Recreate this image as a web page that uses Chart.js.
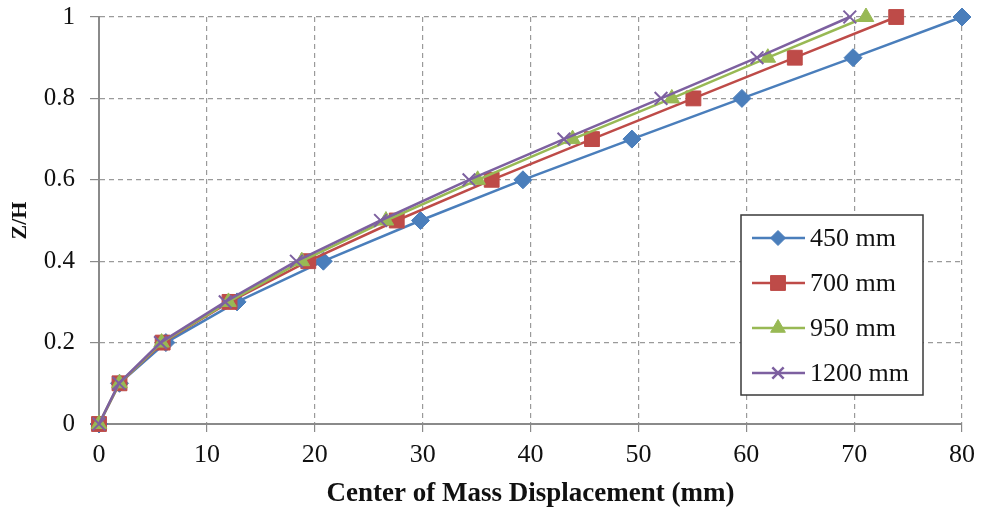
<!DOCTYPE html>
<html>
<head>
<meta charset="utf-8">
<script src="https://cdn.jsdelivr.net/npm/chart.js@4.4.1/dist/chart.umd.min.js"></script>
<style>
    html, body { margin: 0; padding: 0; background: #fff; }
    #wrap { width: 982px; height: 513px; position: relative; }
</style>
</head>
<body>
<div id="wrap"><canvas id="chart"></canvas></div>
<script>
// Z/H levels shared by every series
const levels = [0, 0.1, 0.2, 0.3, 0.4, 0.5, 0.6, 0.7, 0.8, 0.9, 1.0];

// Center of mass displacement (mm) per series
const disp450 = [0, 1.9, 6.2, 12.8, 20.8, 29.8, 39.3, 49.4, 59.6, 69.9, 80.0];
const disp700 = [0, 1.9, 5.9, 12.1, 19.4, 27.6, 36.4, 45.7, 55.1, 64.5, 73.9];
const disp950 = [0, 1.9, 5.8, 12.0, 18.8, 26.6, 35.1, 43.9, 53.1, 62.0, 71.1];
const disp1200 = [0, 1.85, 5.7, 11.7, 18.3, 26.1, 34.3, 43.1, 52.1, 61.0, 69.6];

const seriesNames = ["450 mm", "700 mm", "950 mm", "1200 mm"];
const seriesColors = ["#4a7ebb", "#be4b48", "#98b954", "#7d60a0"];
const seriesMarkers = ["rectRot", "rect", "triangle", "crossRot"];
const markerRadius = { rectRot: 9, rect: 10.5, triangle: 9, crossRot: 9 };
const legendRadius = { rectRot: 7.5, rect: 10.5, triangle: 8.5, crossRot: 8 };

const xTicks = [0, 10, 20, 30, 40, 50, 60, 70, 80];
const yTicks = [0, 0.2, 0.4, 0.6, 0.8, 1];

const fontFamily = "'Liberation Serif', 'Times New Roman', serif";

function toPoints(xs) {
    return xs.map((x, i) => ({ x: x, y: levels[i] }));
}

const allDisp = [disp450, disp700, disp950, disp1200];

const datasets = allDisp.map((d, i) => ({
    label: seriesNames[i],
    data: toPoints(d),
    borderColor: seriesColors[i],
    backgroundColor: seriesColors[i],
    pointBorderColor: seriesColors[i],
    pointBackgroundColor: seriesColors[i],
    pointStyle: seriesMarkers[i],
    pointRadius: markerRadius[seriesMarkers[i]],
    pointBorderWidth: seriesMarkers[i] == "crossRot" ? 2 : 1,
    borderWidth: 2.5,
    tension: 0,
    clip: false,
    order: 3 - i, // later series drawn on top, like the original
}));

// legend box drawn inside the plot area
const insideLegend = {
    id: "insideLegend",
    afterDraw(chart) {
        const ctx = chart.ctx;
        const left = 741, top = 215, w = 182, h = 180;
        ctx.save();
        ctx.fillStyle = "#fff";
        ctx.fillRect(left, top, w, h);
        ctx.strokeStyle = "#3a3a3a";
        ctx.lineWidth = 1.5;
        ctx.strokeRect(left, top, w, h);
        ctx.font = "26px " + fontFamily;
        ctx.textBaseline = "middle";
        seriesNames.forEach((name, i) => {
            const y = top + 23 + i * 45;
            ctx.strokeStyle = seriesColors[i];
            ctx.lineWidth = 2.5;
            ctx.beginPath();
            ctx.moveTo(752, y);
            ctx.lineTo(805, y);
            ctx.stroke();
            const bw = seriesMarkers[i] == "crossRot" ? 2.5 : 1;
            ctx.fillStyle = seriesColors[i];
            ctx.lineWidth = bw;
            Chart.helpers.drawPoint(ctx, {
                pointStyle: seriesMarkers[i],
                radius: legendRadius[seriesMarkers[i]],
                rotation: 0,
                borderWidth: bw,
            }, 778, y);
            ctx.fillStyle = "#111";
            ctx.fillText(name, 810, y + 1);
        });
        ctx.restore();
    },
};

const config = {
    type: "line",
    data: { datasets: datasets },
    options: {
        responsive: true,
        maintainAspectRatio: false,
        animation: false,
        layout: {
            padding: { top: 17, right: 20, left: 0, bottom: 0 },
        },
        plugins: {
            legend: { display: false },
            tooltip: { enabled: false },
        },
        scales: {
            x: {
                type: "linear",
                min: 0,
                max: 80,
                afterBuildTicks: (axis) => {
                    axis.ticks = xTicks.map((v) => ({ value: v }));
                },
                afterFit: (axis) => {
                    axis.height = 89;
                    axis.paddingLeft = 0;
                    axis.paddingRight = 0;
                },
                ticks: {
                    color: "#111",
                    padding: 8,
                    font: { family: fontFamily, size: 26 },
                },
                grid: {
                    color: (c) => (c.tick && c.tick.value == 0 ? "rgba(0,0,0,0)" : "#9a9a9a"),
                    lineWidth: 1.2,
                    tickLength: 8,
                    tickColor: "#8a8a8a",
                },
                border: { display: true, color: "#8a8a8a", width: 2, dash: [5, 4] },
                title: {
                    display: true,
                    text: "Center of Mass Displacement (mm)",
                    color: "#111",
                    font: { family: fontFamily, size: 27, weight: "bold" },
                    padding: { top: 0, bottom: 3 },
                },
            },
            y: {
                type: "linear",
                min: 0,
                max: 1,
                afterBuildTicks: (axis) => {
                    axis.ticks = yTicks.map((v) => ({ value: v }));
                },
                afterFit: (axis) => {
                    axis.width = 99;
                    axis.paddingTop = 0;
                    axis.paddingBottom = 0;
                },
                ticks: {
                    color: "#111",
                    padding: 15,
                    font: { family: fontFamily, size: 25 },
                    callback: (v) => Number(v.toFixed(1)).toString(),
                },
                grid: {
                    color: (c) => (c.tick && c.tick.value == 0 ? "rgba(0,0,0,0)" : "#9a9a9a"),
                    lineWidth: 1.2,
                    tickLength: 9,
                    tickColor: "#8a8a8a",
                },
                border: { display: true, color: "#8a8a8a", width: 2, dash: [5, 4] },
                title: {
                    display: true,
                    text: "Z/H",
                    color: "#111",
                    font: { family: fontFamily, size: 22, weight: "bold" },
                    padding: { top: 7, bottom: 0 },
                },
            },
        },
    },
    plugins: [insideLegend],
};

const chart = new Chart(document.getElementById("chart"), config);
</script>
</body>
</html>
